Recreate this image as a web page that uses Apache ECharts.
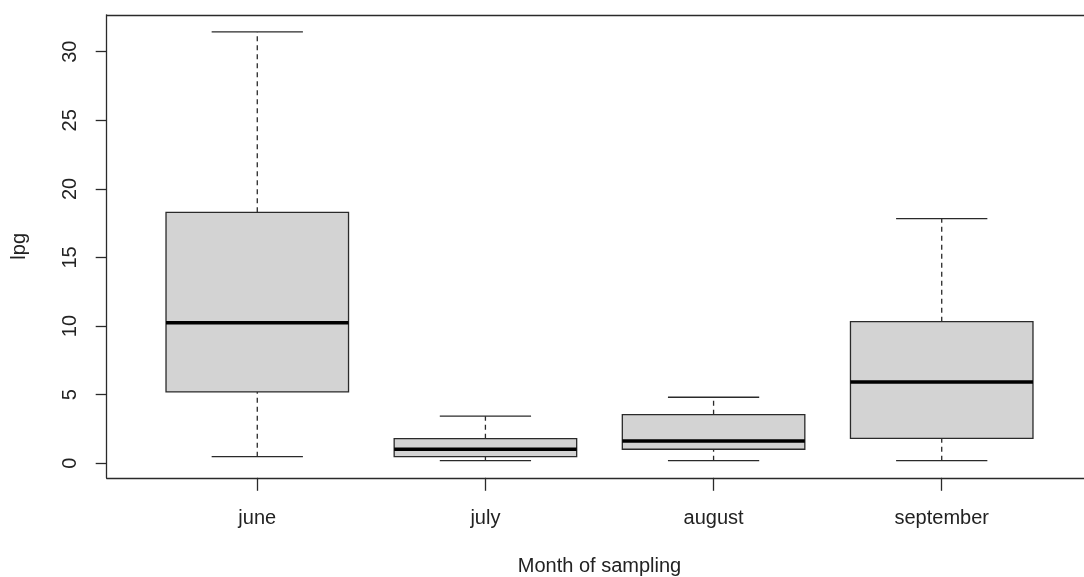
<!DOCTYPE html>
<html>
<head>
<meta charset="utf-8">
<script src="https://cdn.jsdelivr.net/npm/echarts@6/dist/echarts.min.js"></script>
<style>
html,body{margin:0;padding:0;background:#fff;}
#chart{width:1084px;height:577px;}
</style>
</head>
<body>
<div id="chart"></div>
<script>
const categories = ['june', 'july', 'august', 'september'];
const whiskerLow  = [0.48, 0.19, 0.19, 0.19];
const q1          = [5.20, 0.48, 1.02, 1.82];
const median      = [10.25, 1.02, 1.63, 5.93];
const q3          = [18.29, 1.79, 3.54, 10.32];
const whiskerHigh = [31.44, 3.43, 4.81, 17.83];
const yTicks = [0, 5, 10, 15, 20, 25, 30];
const xTicks = [1, 2, 3, 4];

const boxData = categories.map((c, i) => [i + 1, whiskerLow[i], q1[i], median[i], q3[i], whiskerHigh[i]]);

const lineCol = '#2a2a2a';
const textCol = '#222';
const font = 'Liberation Sans, Arial, sans-serif';

function renderItem(params, api) {
  const x = api.value(0);
  const lo = api.value(1), b1 = api.value(2), md = api.value(3), b3 = api.value(4), hi = api.value(5);
  const hw = 0.4, cw = 0.2;
  const c = (xx, yy) => api.coord([xx, yy]);
  const line = (p1, p2, style) => ({
    type: 'line',
    shape: {x1: p1[0], y1: p1[1], x2: p2[0], y2: p2[1]},
    style: Object.assign({stroke: lineCol, lineWidth: 1.3}, style)
  });
  const tl = c(x - hw, b3), br = c(x + hw, b1);
  return {
    type: 'group',
    children: [
      line(c(x, b3), c(x, hi), {lineDash: [5, 4]}),
      line(c(x, lo), c(x, b1), {lineDash: [5, 4]}),
      line(c(x - cw, hi), c(x + cw, hi), {}),
      line(c(x - cw, lo), c(x + cw, lo), {}),
      {
        type: 'rect',
        shape: {x: tl[0], y: tl[1], width: br[0] - tl[0], height: br[1] - tl[1]},
        style: {fill: '#d3d3d3', stroke: lineCol, lineWidth: 1.3}
      },
      line(c(x - hw, md), c(x + hw, md), {stroke: '#000', lineWidth: 3.5})
    ]
  };
}

const chart = echarts.init(document.getElementById('chart'), null, {renderer: 'canvas'});
chart.setOption({
  animation: false,
  backgroundColor: '#fff',
  grid: {left: 106.7, top: 14.8, right: -8.3, bottom: 99.2, containLabel: false, outerBoundsMode: 'none'},
  xAxis: [{
    type: 'value', min: 0.34, max: 4.66,
    name: 'Month of sampling', nameLocation: 'middle', nameGap: 79,
    nameTextStyle: {color: textCol, fontSize: 20, fontFamily: font},
    axisLine: {show: true, onZero: false, lineStyle: {color: lineCol, width: 1.3}},
    axisTick: {show: true, length: 13, customValues: xTicks, lineStyle: {color: lineCol, width: 1.3}},
    axisLabel: {show: true, customValues: xTicks, margin: 31, color: textCol, fontSize: 20, fontFamily: font,
      formatter: v => categories[Math.round(v) - 1] || ''},
    splitLine: {show: false}
  }, {
    type: 'value', min: 0.34, max: 4.66, position: 'top',
    axisLine: {show: true, onZero: false, lineStyle: {color: lineCol, width: 1.3}},
    axisTick: {show: false}, axisLabel: {show: false}, splitLine: {show: false}
  }],
  yAxis: [{
    type: 'value', min: -1.06, max: 32.69,
    name: 'lpg', nameLocation: 'middle', nameGap: 77,
    nameTextStyle: {color: textCol, fontSize: 20, fontFamily: font},
    axisLine: {show: true, onZero: false, lineStyle: {color: lineCol, width: 1.3}},
    axisTick: {show: true, length: 11, customValues: yTicks, lineStyle: {color: lineCol, width: 1.3}},
    axisLabel: {show: true, customValues: yTicks, rotate: 90, margin: 26, color: textCol, fontSize: 20, fontFamily: font},
    splitLine: {show: false}
  }, {
    type: 'value', min: -1.06, max: 32.69, position: 'right',
    axisLine: {show: true, onZero: false, lineStyle: {color: lineCol, width: 1.3}},
    axisTick: {show: false}, axisLabel: {show: false}, splitLine: {show: false}
  }],
  series: [{
    type: 'custom',
    xAxisIndex: 0, yAxisIndex: 0,
    renderItem: renderItem,
    encode: {x: 0, y: [1, 2, 3, 4, 5]},
    data: boxData,
    clip: false
  }]
});
</script>
</body>
</html>
